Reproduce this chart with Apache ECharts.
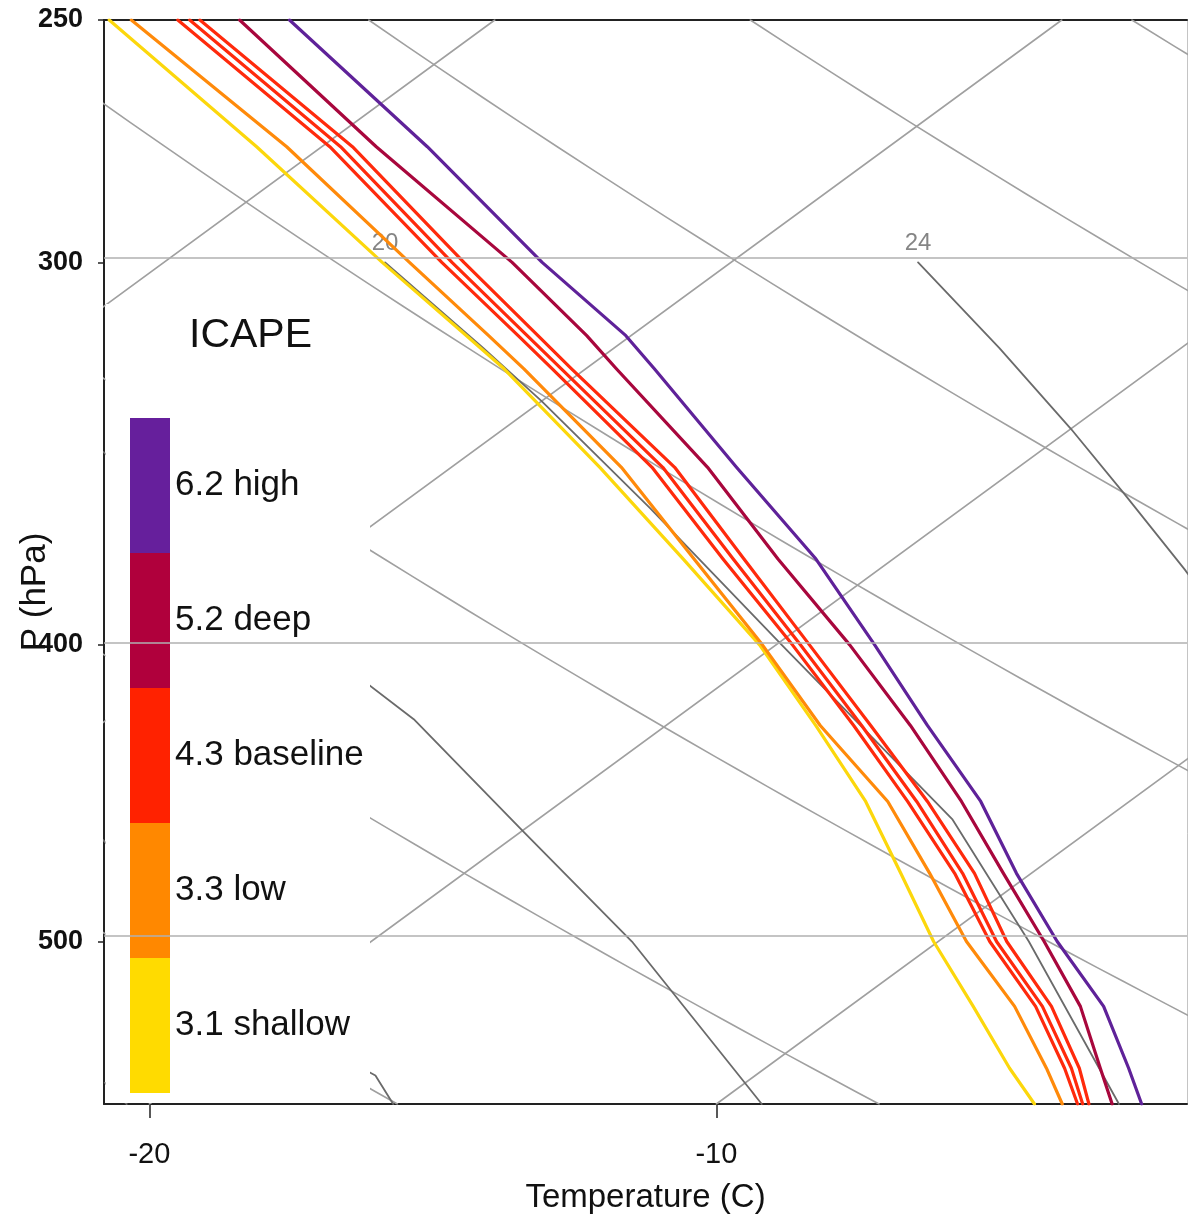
<!DOCTYPE html>
<html>
<head>
<meta charset="utf-8">
<title>ICAPE skew-T profiles</title>
<script src="https://cdn.jsdelivr.net/npm/echarts@6/dist/echarts.min.js"></script>
<style>
  html, body { margin: 0; padding: 0; background: #fff; }
  #chart { width: 1188px; height: 1220px; }
</style>
</head>
<body>
<div id="chart"></div>
<script>
// Pressure levels (hPa) of the temperature profiles
const pressureLevels = [250, 275, 300, 317, 325, 350, 375, 400, 425, 450, 475, 500, 525, 550, 565];

// Temperature profiles (°C) at those levels, one per ICAPE experiment
const tempHigh     = [-43.62, -38.14, -33.33, -30.09, -28.79, -24.97, -21.36, -18.26, -15.39, -12.62, -10.26, -7.90, -5.52, -3.59, -2.50];
const tempDeep     = [-44.50, -39.04, -33.86, -30.78, -29.46, -25.48, -22.03, -18.70, -15.69, -12.96, -10.49, -8.13, -5.93, -4.09, -3.02];
const tempBaseA    = [-45.59, -39.86, -35.10, -31.99, -30.59, -26.46, -23.00, -19.71, -16.69, -13.91, -11.35, -9.09, -6.72, -4.72, -3.63];
const tempBaseB    = [-45.38, -39.67, -34.92, -31.83, -30.43, -26.27, -22.82, -19.57, -16.55, -13.75, -11.21, -8.97, -6.60, -4.60, -3.54];
const tempBaseC    = [-45.20, -39.46, -34.71, -31.64, -30.25, -26.06, -22.63, -19.41, -16.39, -13.56, -11.00, -8.79, -6.44, -4.46, -3.43];
const tempLow      = [-46.41, -40.62, -35.67, -32.51, -31.09, -27.00, -23.51, -20.24, -17.28, -14.26, -11.79, -9.50, -7.09, -5.04, -3.90];
const tempShallow  = [-46.80, -41.15, -36.15, -32.90, -31.44, -27.38, -23.70, -20.29, -17.36, -14.65, -12.30, -10.08, -7.82, -5.69, -4.39];

// Legend entries (ICAPE value and name)
const nameHigh = '6.2 high';
const nameDeep = '5.2 deep';
const nameBase = '4.3 baseline';
const nameLow = '3.3 low';
const nameShallow = '3.1 shallow';

// Diagram background
const isotherms = [-50, -40, -30, -20, -10, 0];          // °C
const dryAdiabats = [30, 40, 50, 60, 70, 80, 90];         // potential temperature, °C
const isobars = [300, 400, 500];                          // hPa
// Saturated adiabats as [pressure hPa, temperature °C]
const moist8  = [[556, -21.3], [565, -20.4]];
const moist12 = [[463, -27.2], [530, -19.9], [553, -16.7], [565, -15.7]];
const moist16 = [[346, -36.5], [400, -28.1], [423, -24.6], [460, -20.0], [500, -15.4], [565, -9.2]];
const moist20 = [[300, -36.1], [320, -32.3], [333, -30.0], [361, -25.5], [400, -19.9], [456, -12.7], [500, -8.4], [565, -2.9]];
const moist24 = [[300, -26.7], [320, -23.2], [340, -20.0], [357, -17.5], [378, -14.6], [400, -11.8]];

// Axis ticks
const pressureTicks = [250, 300, 400, 500];
const tempTicks = [-20, -10];

// Skew-T projection
const SKEW = 32;          // °C of horizontal shift per unit of ln(p)
const P_BASE = 565;       // pressure at the lower edge (hPa)
const P_TOP = 250;
const T_MIN = -20.8, T_MAX = -1.7;
const FONT = '"Liberation Sans", Arial, Helvetica, sans-serif';

function toXY(p, t) {
  return [t + SKEW * Math.log(P_BASE / p), Math.log(p)];
}

function line(pts, color, width, z, name) {
  return {
    type: 'line', name: name, data: pts, symbol: 'none', showSymbol: false,
    silent: true, z: z, clip: true, animation: false,
    lineStyle: { color: color, width: width, cap: 'round', join: 'round' },
    itemStyle: { color: color }
  };
}

const series = [];

// isotherms: straight lines in skewed coordinates
isotherms.forEach(t => {
  series.push(line([toXY(P_BASE, t), toXY(P_TOP, t)], '#a0a0a0', 1.6, 1));
});

// dry adiabats from Poisson's equation
dryAdiabats.forEach(th => {
  const pts = [];
  for (let p = P_TOP; p <= P_BASE; p += 5) {
    const t = (th + 273.15) * Math.pow(p / 1000, 0.2857) - 273.15;
    pts.push(toXY(p, t));
  }
  series.push(line(pts, '#a0a0a0', 1.6, 1));
});

// saturated adiabats
[moist8, moist12, moist16, moist20, moist24].forEach(m => {
  series.push(line(m.map(d => toXY(d[0], d[1])), '#6a6a6a', 1.8, 1));
});

// isobars
series.push({
  type: 'line', data: [], silent: true, z: 1,
  markLine: {
    silent: true, symbol: 'none', animation: false,
    label: { show: false },
    lineStyle: { color: '#b0b0b0', width: 1.6, type: 'solid' },
    data: isobars.map(p => ({ yAxis: Math.log(p) }))
  }
});

// saturated adiabat labels
series.push({
  type: 'scatter', silent: true, z: 1, symbolSize: 1,
  itemStyle: { color: 'rgba(0,0,0,0)' },
  data: [
    [...toXY(moist20[0][0], moist20[0][1]), '20'],
    [...toXY(moist24[0][0], moist24[0][1]), '24']
  ],
  label: {
    show: true, position: 'top', distance: 7,
    formatter: p => p.value[2],
    color: '#666', fontSize: 24, fontFamily: FONT
  }
});

// temperature profiles
const profile = temps => pressureLevels.map((p, i) => toXY(p, temps[i]));
const colHigh = '#5f2299', colDeep = '#a8073d', colBase = '#ff2a0c', colLow = '#ff8a0a', colShallow = '#fcd70c';
series.push(line(profile(tempShallow), colShallow, 3.2, 2, nameShallow));
series.push(line(profile(tempLow), colLow, 3.2, 2, nameLow));
series.push(line(profile(tempBaseA), colBase, 3.2, 2, nameBase));
series.push(line(profile(tempBaseB), colBase, 3.2, 2, nameBase));
series.push(line(profile(tempBaseC), colBase, 3.2, 2, nameBase));
series.push(line(profile(tempDeep), colDeep, 3.2, 2, nameDeep));
series.push(line(profile(tempHigh), colHigh, 3.2, 2, nameHigh));

const chart = echarts.init(document.getElementById('chart'), null, { renderer: 'canvas' });
chart.setOption({
  animation: false,
  backgroundColor: '#fff',
  grid: { left: 104, right: 1, top: 20, bottom: 116, containLabel: false, outerBoundsMode: 'none' },
  title: {
    text: 'ICAPE', left: 184, top: 310,
    textStyle: { fontSize: 41, fontWeight: 'normal', color: '#111', fontFamily: FONT }
  },
  legend: {
    orient: 'vertical', left: 130, top: 418, padding: 0,
    itemWidth: 40, itemHeight: 135, itemGap: 0, icon: 'rect',
    selectedMode: false,
    textStyle: { fontSize: 35, color: '#111', fontFamily: FONT },
    data: [
      { name: nameHigh, itemStyle: { color: '#661f9c' } },
      { name: nameDeep, itemStyle: { color: '#b0003c' } },
      { name: nameBase, itemStyle: { color: '#ff2200' } },
      { name: nameLow, itemStyle: { color: '#ff8800' } },
      { name: nameShallow, itemStyle: { color: '#ffdb00' } }
    ]
  },
  xAxis: [
    {
      type: 'value', position: 'bottom', min: T_MIN, max: T_MAX,
      name: 'Temperature (C)', nameLocation: 'middle', nameGap: 77,
      nameTextStyle: { fontSize: 33, color: '#111', fontFamily: FONT },
      axisLine: { onZero: false, lineStyle: { color: '#222', width: 2 } },
      axisTick: { show: true, customValues: tempTicks, length: 14, lineStyle: { color: '#222', width: 1.5 } },
      axisLabel: { customValues: tempTicks, fontSize: 29, color: '#111', margin: 36, fontFamily: FONT },
      splitLine: { show: false }
    },
    {
      type: 'value', position: 'top', min: T_MIN, max: T_MAX,
      axisLine: { onZero: false, lineStyle: { color: '#222', width: 2 } },
      axisTick: { show: false }, axisLabel: { show: false }, splitLine: { show: false }
    }
  ],
  yAxis: [
    {
      type: 'value', inverse: true, min: Math.log(P_TOP), max: Math.log(P_BASE),
      axisLine: { show: true, onZero: false, lineStyle: { color: '#222', width: 2 } },
      axisTick: { show: true, customValues: pressureTicks.map(Math.log), length: 6, lineStyle: { color: '#222', width: 1.5 } },
      axisLabel: {
        customValues: pressureTicks.map(Math.log),
        formatter: v => String(Math.round(Math.exp(v))),
        fontSize: 27, fontWeight: 'bold', color: '#111', margin: 21, fontFamily: FONT
      },
      splitLine: { show: false }
    },
    {
      type: 'value', position: 'right', inverse: true, min: Math.log(P_TOP), max: Math.log(P_BASE),
      axisLine: { show: true, onZero: false, lineStyle: { color: '#c4c4c4', width: 1 } },
      axisTick: { show: false }, axisLabel: { show: false }, splitLine: { show: false }
    }
  ],
  graphic: {
    elements: [
      {
        // blank panel behind the legend
        type: 'rect', z: 3, silent: true,
        shape: { x: 105.5, y: 304, width: 264.5, height: 799 },
        style: { fill: '#fff' }
      },
      {
        type: 'text', z: 5, silent: true,
        x: 35, y: 592, rotation: Math.PI / 2,
        style: {
          text: 'P (hPa)', fill: '#111', fontSize: 35, fontFamily: FONT,
          align: 'center', verticalAlign: 'middle'
        }
      }
    ]
  },
  series: series
});
</script>
</body>
</html>
